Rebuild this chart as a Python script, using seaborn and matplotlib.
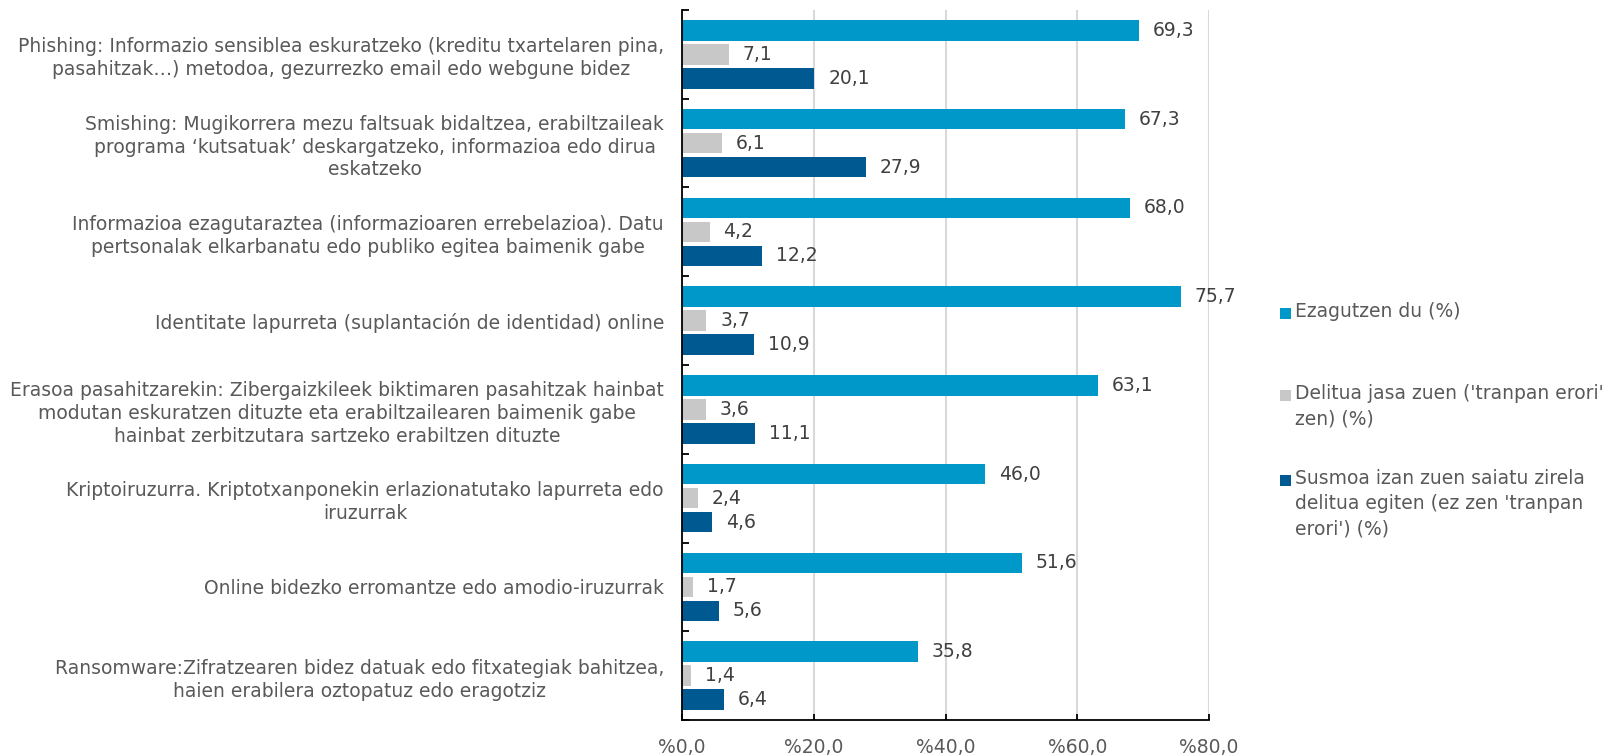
import pandas as pd
import matplotlib.pyplot as plt
import seaborn as sns
from matplotlib.ticker import FixedLocator
from matplotlib.patches import Rectangle

# === Data ===
categories = [
    "Phishing: Informazio sensiblea eskuratzeko (kreditu txartelaren pina,\npasahitzak…) metodoa, gezurrezko email edo webgune bidez",
    "Smishing: Mugikorrera mezu faltsuak bidaltzea, erabiltzaileak\nprograma ‘kutsatuak’ deskargatzeko, informazioa edo dirua\neskatzeko",
    "Informazioa ezagutaraztea (informazioaren errebelazioa). Datu\npertsonalak elkarbanatu edo publiko egitea baimenik gabe",
    "Identitate lapurreta (suplantación de identidad) online",
    "Erasoa pasahitzarekin: Zibergaizkileek biktimaren pasahitzak hainbat\nmodutan eskuratzen dituzte eta erabiltzailearen baimenik gabe\nhainbat zerbitzutara sartzeko erabiltzen dituzte",
    "Kriptoiruzurra. Kriptotxanponekin erlazionatutako lapurreta edo\niruzurrak",
    "Online bidezko erromantze edo amodio-iruzurrak",
    "Ransomware:Zifratzearen bidez datuak edo fitxategiak bahitzea,\nhaien erabilera oztopatuz edo eragotziz",
]
series_names = [
    "Ezagutzen du (%)",
    "Delitua jasa zuen ('tranpan erori'\nzen) (%)",
    "Susmoa izan zuen saiatu zirela\ndelitua egiten (ez zen 'tranpan\nerori') (%)",
]
ezagutzen = [69.3, 67.3, 68.0, 75.7, 63.1, 46.0, 51.6, 35.8]
jasa = [7.1, 6.1, 4.2, 3.7, 3.6, 2.4, 1.7, 1.4]
susmoa = [20.1, 27.9, 12.2, 10.9, 11.1, 4.6, 5.6, 6.4]
colors = ["#0097C9", "#C8C8C8", "#005A91"]
x_ticks = [0, 20, 40, 60, 80]
x_tick_labels = ["%0,0", "%20,0", "%40,0", "%60,0", "%80,0"]

rows = []
for name, vals in zip(series_names, [ezagutzen, jasa, susmoa]):
    for cat, v in zip(categories, vals):
        rows.append({"cat": cat, "serie": name, "val": v})
df = pd.DataFrame(rows)

# === Plot ===
sns.set_theme(style="white")
plt.rcParams["font.family"] = ["DejaVu Sans"]
text_color = "#595959"
fs = 13.5

W, H = 1607, 756
fig = plt.figure(figsize=(W / 100, H / 100), dpi=100)
ax = fig.add_axes([682 / W, 1 - 720 / H, (1209 - 682) / W, (720 - 10) / H])

sns.barplot(data=df, y="cat", x="val", hue="serie", hue_order=series_names,
            order=categories, palette=colors, orient="h", width=0.81, gap=0.15,
            saturation=1, linewidth=0, legend=False, ax=ax)

for cont in ax.containers:
    ax.bar_label(cont, labels=[f"{b.get_width():.1f}".replace(".", ",") for b in cont],
                 padding=10, fontsize=fs, color="#404040")

ax.set_xlim(0, 80)
ax.set_ylim(len(categories) - 0.5, -0.5)
ax.xaxis.set_major_locator(FixedLocator(x_ticks))
ax.set_xticklabels(x_tick_labels)
ax.grid(axis="x", color="#D9D9D9", linewidth=1.5)
ax.set_axisbelow(True)
ax.set_xlabel("")
ax.set_ylabel("")

for s in ["top", "right"]:
    ax.spines[s].set_visible(False)
for s in ["left", "bottom"]:
    ax.spines[s].set_color("black")
    ax.spines[s].set_linewidth(1.3)

ax.tick_params(axis="x", bottom=True, direction="in", length=4, width=1.3, color="black",
               labelsize=fs, labelcolor=text_color, pad=13)
ax.tick_params(axis="y", which="major", left=False, length=0, pad=13,
               labelsize=fs, labelcolor=text_color)
ax.yaxis.set_minor_locator(FixedLocator([i - 0.5 for i in range(len(categories) + 1)]))
ax.tick_params(axis="y", which="minor", left=True, direction="in", length=5,
               width=1.3, color="black")
for lab in ax.get_yticklabels():
    lab.set_multialignment("center")
    lab.set_linespacing(1.26)

# legend, handle next to the first line of each entry
legend_tops = [313, 395, 480]
for name, col, yc in zip(series_names, colors, legend_tops):
    fig.patches.append(Rectangle((1280 / W, 1 - (yc + 5.5) / H), 11 / W, 11 / H,
                                 transform=fig.transFigure, facecolor=col,
                                 edgecolor="none"))
    fig.text(1295 / W, 1 - (yc - 11) / H, name, ha="left", va="top",
             fontsize=fs, color=text_color, linespacing=1.43)

plt.savefig("out.png", dpi=100)
